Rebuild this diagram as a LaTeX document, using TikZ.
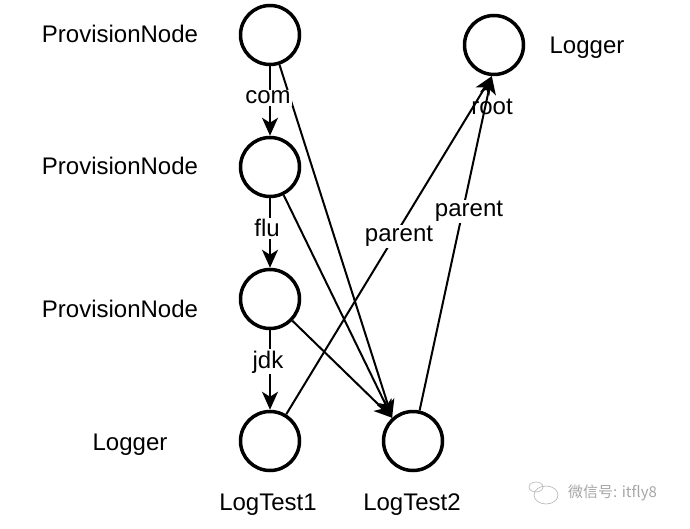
\documentclass[tikz,border=0pt]{standalone}
\usepackage{fontspec}
\setmainfont{Liberation Sans}
\newfontfamily\cjkfont{Noto Sans CJK SC}
\usetikzlibrary{arrows.meta}
\begin{document}
\begin{tikzpicture}[x=1pt,y=1pt,
  nd/.style={circle,draw,line width=3.5pt,minimum size=59pt,inner sep=0pt},
  txt/.style={font=\fontsize{24}{28}\selectfont,anchor=base,inner sep=0pt},
  elabel/.style={txt,fill=white,inner sep=1.5pt},
  arr/.style={line width=2pt,-{Stealth[length=18pt,width=16pt,inset=5pt]}},
  wm/.style={font=\cjkfont\fontsize{15}{18}\selectfont,text=black!35,inner sep=0pt}]
\useasboundingbox (0,0) rectangle (690,528);
% nodes
\node[nd] (A) at (270,493) {};
\node[nd] (B) at (270,361) {};
\node[nd] (C) at (270,229) {};
\node[nd] (T1) at (270,87) {};
\node[nd] (T2) at (413,87) {};
\node[nd] (R) at (494,483) {};
% side labels
\node[txt] (lA) at (120,485) {ProvisionNode};
\node[txt] (lB) at (120,353) {ProvisionNode};
\node[txt] (lC) at (120,211) {ProvisionNode};
\node[txt] (lT) at (130,78) {Logger};
\node[txt] (lR) at (587,474) {Logger};
\node[txt] (n1) at (268,18) {LogTest1};
\node[txt] (n2) at (412,18) {LogTest2};
\node[txt] (rootl) at (492,413) {root};
% edges
\draw[arr] (A) -- (T2.132);
\draw[arr] (B) -- (T2.132);
\draw[arr] (C) -- (T2.132);
\draw[arr] (A) -- (B);
\draw[arr] (B) -- (C);
\draw[arr] (C) -- (T1);
\draw[arr] (T1) -- (R.266);
\draw[arr] (T2) -- (R.266);
% edge labels
\node[elabel] (ecom) at (268,424) {com};
\node[elabel] (eflu) at (267,291) {flu};
\node[elabel] (ejdk) at (268,160) {jdk};
\node[elabel] (ep1) at (399,286) {parent};
\node[elabel] (ep2) at (469,311) {parent};
% watermark
\node[wm,anchor=west] (wmt) at (568,35) {微信号: itfly8};
\draw[black!30,line width=0.6pt] (546,33) ellipse (12pt and 9pt);
\draw[black!30,line width=0.6pt] (536,41) ellipse (7pt and 5pt);
\end{tikzpicture}
\end{document}
